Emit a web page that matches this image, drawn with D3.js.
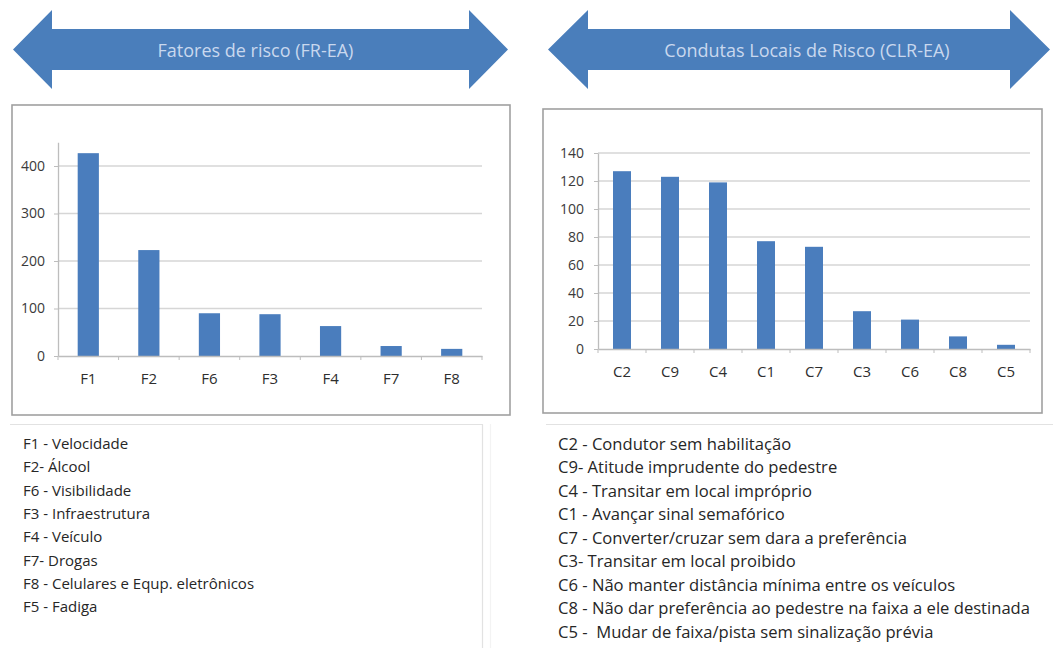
<!DOCTYPE html>
<html>
<head>
<meta charset="utf-8">
<script src="https://cdn.jsdelivr.net/npm/d3@7"></script>
<style>
  html, body { margin: 0; padding: 0; background: #fff; }
  svg { display: block; }
  text { font-family: "Open Sans", Lato, sans-serif; }
</style>
</head>
<body>
<svg id="chart" width="1053" height="648"></svg>
<script>
// Fatores de risco (FR-EA)
const frCategories = ["F1", "F2", "F6", "F3", "F4", "F7", "F8"];
const frValues = [427, 223, 90, 88, 63, 21, 15];
const frTicks = [0, 100, 200, 300, 400];
const frLegend = [
  "F1 - Velocidade",
  "F2- Álcool",
  "F6 - Visibilidade",
  "F3 - Infraestrutura",
  "F4 - Veículo",
  "F7- Drogas",
  "F8 - Celulares e Equp. eletrônicos",
  "F5 - Fadiga"
];

// Condutas Locais de Risco (CLR-EA)
const clrCategories = ["C2", "C9", "C4", "C1", "C7", "C3", "C6", "C8", "C5"];
const clrValues = [127, 123, 119, 77, 73, 27, 21, 9, 3];
const clrTicks = [0, 20, 40, 60, 80, 100, 120, 140];
const clrLegend = [
  "C2 - Condutor sem habilitação",
  "C9- Atitude imprudente do pedestre",
  "C4 - Transitar em local impróprio",
  "C1 - Avançar sinal semafórico",
  "C7 - Converter/cruzar sem dara a preferência",
  "C3- Transitar em local proibido",
  "C6 - Não manter distância mínima entre os veículos",
  "C8 - Não dar preferência ao pedestre na faixa a ele destinada",
  "C5 -  Mudar de faixa/pista sem sinalização prévia"
];

const svg = d3.select("#chart");
const blue = "#4a7ebb";
const barBlue = "#4a7dbd";

// Double-headed banner arrow with a caption
function banner(x0, x1, headLen, title, textShift) {
  const cy = 49.5, shaftHalf = 20.5, headHalf = 39.5;
  const p = d3.path();
  p.moveTo(x0, cy);
  p.lineTo(x0 + headLen, cy - headHalf);
  p.lineTo(x0 + headLen, cy - shaftHalf);
  p.lineTo(x1 - headLen, cy - shaftHalf);
  p.lineTo(x1 - headLen, cy - headHalf);
  p.lineTo(x1, cy);
  p.lineTo(x1 - headLen, cy + headHalf);
  p.lineTo(x1 - headLen, cy + shaftHalf);
  p.lineTo(x0 + headLen, cy + shaftHalf);
  p.lineTo(x0 + headLen, cy + headHalf);
  p.closePath();
  svg.append("path").attr("d", p.toString()).attr("fill", blue);
  svg.append("text")
    .attr("x", (x0 + x1) / 2 + textShift).attr("y", cy)
    .attr("text-anchor", "middle").attr("dominant-baseline", "central")
    .attr("font-size", 18).attr("fill", "#c9d8ee")
    .text(title);
}

banner(13, 508, 39, "Fatores de risco (FR-EA)", -5);
banner(548, 1050, 40, "Condutas Locais de Risco (CLR-EA)", 8);

// Column chart inside a framed box
function columnChart(cfg) {
  svg.append("rect")
    .attr("x", cfg.box[0]).attr("y", cfg.box[1])
    .attr("width", cfg.box[2] - cfg.box[0]).attr("height", cfg.box[3] - cfg.box[1])
    .attr("fill", "#fff").attr("stroke", "#a0a0a0").attr("stroke-width", 1.6);

  const x = d3.scaleBand()
    .domain(cfg.categories)
    .range([cfg.left, cfg.right])
    .paddingInner(cfg.pad)
    .paddingOuter(cfg.pad / 2);
  const y = d3.scaleLinear()
    .domain([0, cfg.max])
    .range([cfg.bottom, cfg.top]);

  const g = svg.append("g");

  // horizontal gridlines
  g.append("g")
    .selectAll("line")
    .data(cfg.ticks.filter(d => d > 0))
    .join("line")
    .attr("x1", cfg.left).attr("x2", cfg.right)
    .attr("y1", d => y(d)).attr("y2", d => y(d))
    .attr("stroke", "#d6d6d6").attr("stroke-width", 1.3);

  // bars
  g.append("g")
    .selectAll("rect")
    .data(cfg.values)
    .join("rect")
    .attr("x", (d, i) => x(cfg.categories[i]))
    .attr("width", x.bandwidth())
    .attr("y", d => y(d))
    .attr("height", d => y(0) - y(d))
    .attr("fill", barBlue);

  // value axis
  const yAxis = g.append("g")
    .attr("transform", `translate(${cfg.left},0)`)
    .call(d3.axisLeft(y).tickValues(cfg.ticks).tickSize(4).tickPadding(cfg.yPad).tickSizeOuter(0));
  yAxis.select(".domain").attr("stroke", "#bdbdbd").attr("stroke-width", 1.3);
  yAxis.selectAll(".tick line").attr("stroke", "#bdbdbd");
  yAxis.selectAll(".tick text")
    .attr("font-size", 14).attr("fill", "#3a3a3a")
    .attr("font-family", "'Open Sans', sans-serif");

  // category axis
  const xAxis = g.append("g")
    .attr("transform", `translate(0,${cfg.bottom})`)
    .call(d3.axisBottom(x).tickSize(0).tickPadding(cfg.xPad));
  xAxis.select(".domain").attr("stroke", "#bdbdbd").attr("stroke-width", 1.3);
  xAxis.selectAll(".tick text")
    .attr("font-size", 15).attr("fill", "#2e2e2e")
    .attr("font-family", "'Open Sans', sans-serif");

  // tick marks between categories
  const step = x.step();
  g.append("g")
    .selectAll("line")
    .data(d3.range(cfg.categories.length + 1))
    .join("line")
    .attr("x1", i => cfg.left + i * step).attr("x2", i => cfg.left + i * step)
    .attr("y1", cfg.bottom).attr("y2", cfg.bottom + 4)
    .attr("stroke", "#bdbdbd");
}

columnChart({
  box: [12, 105, 510, 415],
  categories: frCategories, values: frValues, ticks: frTicks,
  max: 450, left: 58, right: 482, top: 142.25, bottom: 356,
  pad: 0.65, yPad: 9, xPad: 17
});

columnChart({
  box: [543, 109, 1042, 413],
  categories: clrCategories, values: clrValues, ticks: clrTicks,
  max: 140, left: 598, right: 1030, top: 153, bottom: 349,
  pad: 0.625, yPad: 10, xPad: 17
});

// Legend panels
svg.append("path")
  .attr("d", "M10,424.5 H482.5 V660")
  .attr("fill", "none").attr("stroke", "#e2e2e2").attr("stroke-width", 1.2);
svg.append("path")
  .attr("d", "M546,424.5 H1053")
  .attr("fill", "none").attr("stroke", "#e2e2e2").attr("stroke-width", 1.2);
svg.append("line")
  .attr("x1", 490.5).attr("x2", 490.5).attr("y1", 424).attr("y2", 648)
  .attr("stroke", "#f3f3f3").attr("stroke-width", 1.2);

function legend(items, x0, y0, gap, size) {
  svg.append("g")
    .selectAll("text")
    .data(items)
    .join("text")
    .attr("x", x0)
    .attr("y", (d, i) => y0 + i * gap)
    .attr("dominant-baseline", "central")
    .attr("font-size", size).attr("fill", "#262626")
    .style("white-space", "pre")
    .text(d => d);
}

legend(frLegend, 23, 443, 23.3, 15);
legend(clrLegend, 558, 443, 23.5, 16.6);
</script>
</body>
</html>
